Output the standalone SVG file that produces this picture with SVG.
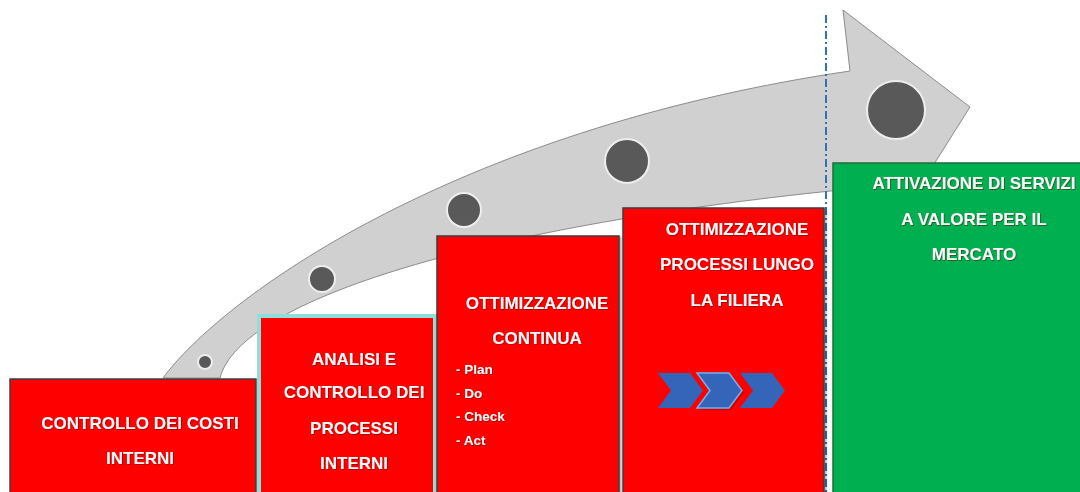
<svg xmlns="http://www.w3.org/2000/svg" width="1080" height="492" viewBox="0 0 1080 492">
<style>
.t{font-family:"Liberation Sans",Arial,sans-serif;font-weight:bold;font-size:17px;fill:#FAFAFA;text-anchor:middle;filter:url(#ts)}
.b{font-family:"Liberation Sans",Arial,sans-serif;font-weight:bold;font-size:13.5px;fill:#FAFAFA;filter:url(#ts)}
.red{fill:#FF0000;stroke:#3F3F3F;stroke-width:1.5}
.dot{fill:#595959;stroke:#EEEEEE;stroke-width:2}
.chev{fill:#3465B9}
</style>
<defs>
<filter id="ts" x="-10%" y="-30%" width="120%" height="160%">
<feDropShadow dx="0.8" dy="0.8" stdDeviation="0.7" flood-color="#600000" flood-opacity="0.6"/>
</filter>
<filter id="glow" x="-10%" y="-10%" width="120%" height="120%">
<feDropShadow dx="1.5" dy="1.5" stdDeviation="1.2" flood-color="#000" flood-opacity="0.35"/>
</filter>
</defs>
<rect width="1080" height="492" fill="#FFFFFF"/>
<g id="arrow">
<path d="M163 378 C220 300 450 130 850 71 L843 10 L970 107 L905 210 L860 188 C480 225 240 300 220 378 Z" fill="#D0D0D0" stroke="#8C8C8C" stroke-width="1"/>
<circle class="dot" cx="205" cy="362" r="7"/>
<circle class="dot" cx="322" cy="279" r="13"/>
<circle class="dot" cx="464" cy="210" r="17"/>
<circle class="dot" cx="627" cy="161" r="22"/>
<circle class="dot" cx="896" cy="110" r="29"/>
</g>
<g id="connectors">
<line x1="826" y1="15" x2="826" y2="492" stroke="#2E75B6" stroke-width="2" stroke-dasharray="8 3 2 3"/>
</g>
<g id="node1">
<rect class="red" x="10" y="379" width="246" height="120"/>
<text class="t" x="140" y="429">CONTROLLO DEI COSTI</text>
<text class="t" x="140" y="464">INTERNI</text>
</g>
<g id="node2">
<rect x="259" y="316" width="176" height="180" fill="#FF0000" stroke="#8EDEDC" stroke-width="4"/>
<text class="t" x="354" y="365">ANALISI E</text>
<text class="t" x="354" y="398">CONTROLLO DEI</text>
<text class="t" x="354" y="434">PROCESSI</text>
<text class="t" x="354" y="469">INTERNI</text>
</g>
<g id="node3">
<rect class="red" x="437" y="236" width="182" height="262" filter="url(#glow)"/>
<text class="t" x="537" y="309">OTTIMIZZAZIONE</text>
<text class="t" x="537" y="344">CONTINUA</text>
<text class="b" x="456" y="374">- Plan</text>
<text class="b" x="456" y="398">- Do</text>
<text class="b" x="456" y="421">- Check</text>
<text class="b" x="456" y="445">- Act</text>
</g>
<g id="node4">
<rect class="red" x="623" y="208" width="201" height="290" filter="url(#glow)"/>
<text class="t" x="737" y="235">OTTIMIZZAZIONE</text>
<text class="t" x="737" y="270">PROCESSI LUNGO</text>
<text class="t" x="737" y="306">LA FILIERA</text>
<polygon class="chev" points="658,373 690,373 703,390.5 690,408 658,408 671,390.5"/>
<polygon class="chev" points="740,373 772,373 785,390.5 772,408 740,408 753,390.5"/>
<polygon points="699,375 731,375 744,392.5 731,410 699,410 712,392.5" fill="#B00000" opacity="0.6"/>
<polygon class="chev" points="697,373 729,373 742,390.5 729,408 697,408 710,390.5" stroke="#6FB2F2" stroke-width="1.5"/>
</g>
<g id="node5">
<rect x="833" y="163" width="250" height="335" fill="#00B050" stroke="#1E6B3A" stroke-width="1.5"/>
<text class="t" x="974" y="189">ATTIVAZIONE DI SERVIZI</text>
<text class="t" x="974" y="225">A VALORE PER IL</text>
<text class="t" x="974" y="260">MERCATO</text>
</g>
</svg>
